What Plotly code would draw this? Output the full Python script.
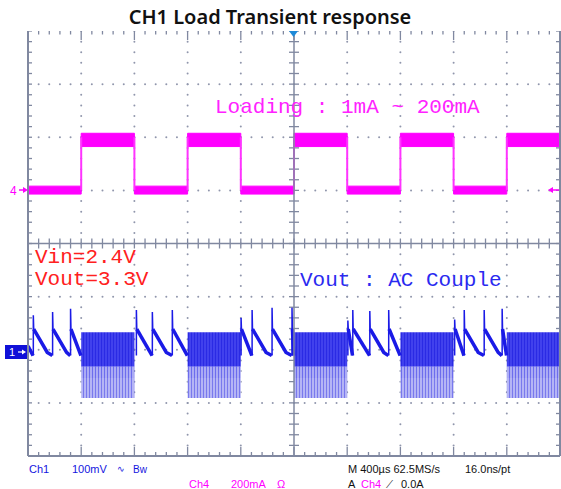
import plotly.graph_objects as go

# ---------------- acquisition settings ----------------
TIME_PER_DIV_US = 400          # M 400us
CH1_MV_PER_DIV = 100           # Ch1 100mV, AC coupled
CH4_MA_PER_DIV = 200           # Ch4 200mA
CH1_POS_DIV = -2.05            # Ch1 ground marker position (divisions from centre)
CH4_POS_DIV = 1.0              # Ch4 ground marker position
X_DIVS, Y_DIVS = 10, 8

# ---------------- Ch4: load current step ----------------
load_edges_us = [-1600, -1200, -800, -400, 0, 400, 800, 1200, 1600]   # rise, fall, rise, ...
load_light_mA = 1
load_heavy_mA = 200
load_heavy_band_mA = [-35, 15]
load_light_band_mA = [-15, 15]

# ---------------- Ch1: output voltage ripple ----------------
# light-load PFM pulses
pulse_start_us = [-1960, -1815, -1680, -1185, -1065, -915, -398, -315, -165, -15,
                  405, 442, 570, 712, 1208, 1280, 1430, 1565]
pulse_peak_mV = [70, 76, 82, 80, 76, 80, 65, 80, 84, 84,
                 60, 80, 78, 80, 62, 80, 80, 82]
pulse_decay_dt_us = [3, 105]
pulse_decay_mV = [44, 0]
pulse_floor_mV = -6
lead_in_us = [-2000, -1962]
lead_in_mV = [12, -6]
# heavy-load switching ripple band: top, dense/light split, light/lower split, bottom
burst_levels_mV = [38, -27, -48, -86]

# ---------------- page geometry ----------------
W, H = 561, 489
ML, MR, MT, MB = 28, 1, 31, 33
PW, PH = W - ML - MR, H - MT - MB
X_LO = -X_DIVS / 2 * TIME_PER_DIV_US
X_HI = X_DIVS / 2 * TIME_PER_DIV_US
US_PER_PX = (X_HI - X_LO) / PW
DIV_PER_PX = Y_DIVS / PH

GRAT = "#8088a0"
MAGENTA = "#ff00ff"
BLUE = "#1a1ae6"


def pxx(p):
    return (p - ML) / PW


def pxy(p):
    return 1 - (p - MT) / PH


fig = go.Figure()

# ---------------- graticule ----------------
dot_x, dot_y = [], []
for k in range(-4, 5):
    if k == 0:
        continue
    for m in range(-20, 21):
        dot_x.append(k * TIME_PER_DIV_US)
        dot_y.append(m * 0.2)
for k in range(-3, 4):
    if k == 0:
        continue
    for m in range(-25, 26):
        dot_x.append(m * 0.2 * TIME_PER_DIV_US)
        dot_y.append(k)
fig.add_trace(go.Scatter(x=dot_x, y=dot_y, mode="markers", yaxis="y",
                         marker=dict(size=2, color="#9096ac"), hoverinfo="skip"))

tick_x, tick_y = [], []
minor = 4
for m in range(-20, 21):
    y = m * 0.2
    tick_x += [X_LO, X_LO + minor * US_PER_PX, None, X_HI, X_HI - minor * US_PER_PX, None,
               -5 * US_PER_PX, 5 * US_PER_PX, None]
    tick_y += [y, y, None, y, y, None, y, y, None]
for m in range(-25, 26):
    x = m * 0.2 * TIME_PER_DIV_US
    top_len = (9 if m % 5 == 0 else 3.5) * DIV_PER_PX
    bot_len = (9 if m % 5 == 0 else 4) * DIV_PER_PX
    tick_x += [x, x, None, x, x, None, x, x, None]
    tick_y += [4, 4 - top_len, None, -4, -4 + bot_len, None,
               -5 * DIV_PER_PX, 5 * DIV_PER_PX, None]
fig.add_trace(go.Scatter(x=tick_x, y=tick_y, mode="lines", yaxis="y",
                         line=dict(color=GRAT, width=1.3), hoverinfo="skip"))

shapes = [
    dict(type="line", xref="paper", yref="paper", x0=0, x1=0, y0=0, y1=1,
         line=dict(color=GRAT, width=2)),
    dict(type="line", xref="paper", yref="paper", x0=1, x1=1, y0=0, y1=1,
         line=dict(color=GRAT, width=2)),
    dict(type="line", xref="paper", yref="paper", x0=0, x1=1, y0=0, y1=0,
         line=dict(color=GRAT, width=2)),
    dict(type="line", xref="paper", yref="paper", x0=0.5, x1=0.5, y0=0, y1=1,
         line=dict(color=GRAT, width=1.5)),
    dict(type="line", xref="paper", yref="paper", x0=0, x1=1, y0=0.5, y1=0.5,
         line=dict(color=GRAT, width=1.5)),
]

# ---------------- Ch4 trace ----------------
bounds = [X_LO] + load_edges_us + [X_HI]
band_x, band_y = [], []
heavy_windows = []
for i in range(len(bounds) - 1):
    a, b = bounds[i], bounds[i + 1]
    heavy = i % 2 == 1
    lvl = load_heavy_mA if heavy else load_light_mA
    lo, hi = load_heavy_band_mA if heavy else load_light_band_mA
    if heavy:
        heavy_windows.append((a, b))
    band_x += [a, b, b, a, a, None]
    band_y += [lvl + lo, lvl + lo, lvl + hi, lvl + hi, lvl + lo, None]
fig.add_trace(go.Scatter(x=band_x, y=band_y, yaxis="y2", mode="lines", fill="toself",
                         fillcolor=MAGENTA, line=dict(color=MAGENTA, width=1),
                         hoverinfo="skip"))
edge_x, edge_y = [], []
for t in load_edges_us:
    edge_x += [t, t, None]
    edge_y += [load_light_mA, load_heavy_mA, None]
fig.add_trace(go.Scatter(x=edge_x, y=edge_y, yaxis="y2", mode="lines",
                         line=dict(color="#ff33ff", width=2), hoverinfo="skip"))

# ---------------- Ch1 trace ----------------
top, split1, split2, bottom = burst_levels_mV
layers = [
    (top, split1, "#4848f0", "#0c0cd8", 0.5),
    (split1, split2, "#b2b2f4", "#2626e6", 0.4),
    (split2, bottom, "#dcdcfa", "#1616e0", 0.6),
]
for hi, lo, bg, fg, sol in layers:
    bx, by = [], []
    for a, b in heavy_windows:
        bx += [a, b, b, a, a, None]
        by += [lo, lo, hi, hi, lo, None]
    fig.add_trace(go.Scatter(x=bx, y=by, yaxis="y3", mode="lines", fill="toself",
                             fillcolor=bg, line=dict(width=0),
                             fillpattern=dict(shape="|", size=3, solidity=sol,
                                              fgcolor=fg, bgcolor=bg),
                             hoverinfo="skip"))

heavy_starts = [a for a, _ in heavy_windows]
spike_x, spike_y, decay_x, decay_y = [], [], [], []
decay_x += lead_in_us + [None]
decay_y += lead_in_mV + [None]
for i, (t, pk) in enumerate(zip(pulse_start_us, pulse_peak_mV)):
    nxt = [s for s in pulse_start_us[i + 1:]] + [s for s in heavy_starts if s > t] + [X_HI]
    end = min(nxt)
    spike_x += [t, t, t + pulse_decay_dt_us[0], None]
    spike_y += [pulse_floor_mV, pk, pulse_decay_mV[0], None]
    xs, ys = [], []
    for dt, v in zip(pulse_decay_dt_us, pulse_decay_mV):
        if t + dt < end:
            xs.append(t + dt)
            ys.append(v)
    xs.append(end - 2)
    ys.append(pulse_floor_mV)
    decay_x += xs + [None]
    decay_y += ys + [None]
fig.add_trace(go.Scatter(x=decay_x, y=decay_y, yaxis="y3", mode="lines",
                         line=dict(color=BLUE, width=3.5), hoverinfo="skip"))
fig.add_trace(go.Scatter(x=spike_x, y=spike_y, yaxis="y3", mode="lines",
                         line=dict(color=BLUE, width=1.5), hoverinfo="skip"))

# ---------------- markers ----------------
def tri(points):
    d = "M " + " L ".join(f"{pxx(a):.5f},{pxy(b):.5f}" for a, b in points) + " Z"
    return d


shapes += [
    # trigger position
    dict(type="path", xref="paper", yref="paper", path=tri([(289, 31), (298, 31), (293.5, 37)]),
         fillcolor="#1e8ad8", line=dict(width=0)),
    # Ch4 ground arrow
    dict(type="line", xref="paper", yref="paper", x0=pxx(19), x1=pxx(24), y0=pxy(190), y1=pxy(190),
         line=dict(color=MAGENTA, width=1.5)),
    dict(type="path", xref="paper", yref="paper", path=tri([(23, 187), (28, 190), (23, 193)]),
         fillcolor=MAGENTA, line=dict(width=0)),
    # trigger level arrow
    dict(type="line", xref="paper", yref="paper", x0=pxx(552), x1=pxx(559), y0=pxy(190), y1=pxy(190),
         line=dict(color=MAGENTA, width=1.5)),
    dict(type="path", xref="paper", yref="paper", path=tri([(553, 187), (548, 190), (553, 193)]),
         fillcolor=MAGENTA, line=dict(width=0)),
    # Ch1 ground marker
    dict(type="rect", xref="paper", yref="paper", x0=pxx(5), x1=pxx(27), y0=pxy(359), y1=pxy(345),
         fillcolor="#1010d8", line=dict(width=0)),
    dict(type="line", xref="paper", yref="paper", x0=pxx(18), x1=pxx(23), y0=pxy(352), y1=pxy(352),
         line=dict(color="white", width=1.2)),
    dict(type="path", xref="paper", yref="paper", path=tri([(22, 349.5), (26, 352), (22, 354.5)]),
         fillcolor="white", line=dict(width=0)),
]

MONO = "Liberation Mono, Courier New, monospace"
SANS = "Liberation Sans, Arial, sans-serif"


def note(text, x, y, color, size, family, anchor="left"):
    return dict(text=text, x=pxx(x), y=pxy(y), xref="paper", yref="paper",
                xanchor=anchor, yanchor="middle", showarrow=False,
                font=dict(color=color, size=size, family=family))


annotations = [
    note("Loading : 1mA ~ 200mA", 213, 107, "#ff22ff", 21, MONO),
    note("Vin=2.4V", 33, 257, "#ff2020", 21, MONO),
    note("Vout=3.3V", 33, 279, "#ff2020", 21, MONO),
    note("Vout : AC Couple", 298, 280, "#2a2af0", 21, MONO),
    note("4", 13, 191, MAGENTA, 12, SANS, "center"),
    note("1", 12, 352, "white", 11, SANS, "center"),
    # status line
    note("Ch1", 27, 469, "#1414e0", 11, SANS),
    note("100mV", 70, 469, "#1414e0", 11, SANS),
    note("∿", 115, 469, "#1414e0", 9, SANS),
    note("Bw", 131, 469, "#1414e0", 10, SANS),
    note("Ch4", 187, 484, MAGENTA, 11, SANS),
    note("200mA", 229, 484, MAGENTA, 11, SANS),
    note("Ω", 275, 484, MAGENTA, 11, SANS),
    note("M 400µs 62.5MS/s", 346, 469, "#111111", 11, SANS),
    note("16.0ns/pt", 463, 469, "#111111", 11, SANS),
    note("A", 346, 484, "#111111", 11, SANS),
    note("Ch4", 359, 484, MAGENTA, 11, SANS),
    note("⟋", 384, 484, "#111111", 10, SANS),
    note("0.0A", 399, 484, "#111111", 11, SANS),
]

ax_common = dict(visible=False, showgrid=False, zeroline=False, fixedrange=True)
fig.update_layout(
    width=W, height=H,
    margin=dict(l=ML, r=MR, t=MT, b=MB, pad=0),
    paper_bgcolor="white", plot_bgcolor="white",
    showlegend=False,
    title=dict(text="CH1 Load Transient response", x=270 / W, y=1 - 17 / H,
               xanchor="center", yanchor="middle",
               font=dict(family="Noto Sans, Open Sans, sans-serif", size=20, color="#111111",
                         weight=600)),
    xaxis=dict(range=[X_LO, X_HI], **ax_common),
    yaxis=dict(range=[-Y_DIVS / 2, Y_DIVS / 2], **ax_common),
    yaxis2=dict(range=[(-Y_DIVS / 2 - CH4_POS_DIV) * CH4_MA_PER_DIV,
                       (Y_DIVS / 2 - CH4_POS_DIV) * CH4_MA_PER_DIV],
                overlaying="y", **ax_common),
    yaxis3=dict(range=[(-Y_DIVS / 2 - CH1_POS_DIV) * CH1_MV_PER_DIV,
                       (Y_DIVS / 2 - CH1_POS_DIV) * CH1_MV_PER_DIV],
                overlaying="y", **ax_common),
    shapes=shapes,
    annotations=annotations,
)

fig.write_html("out.html")
